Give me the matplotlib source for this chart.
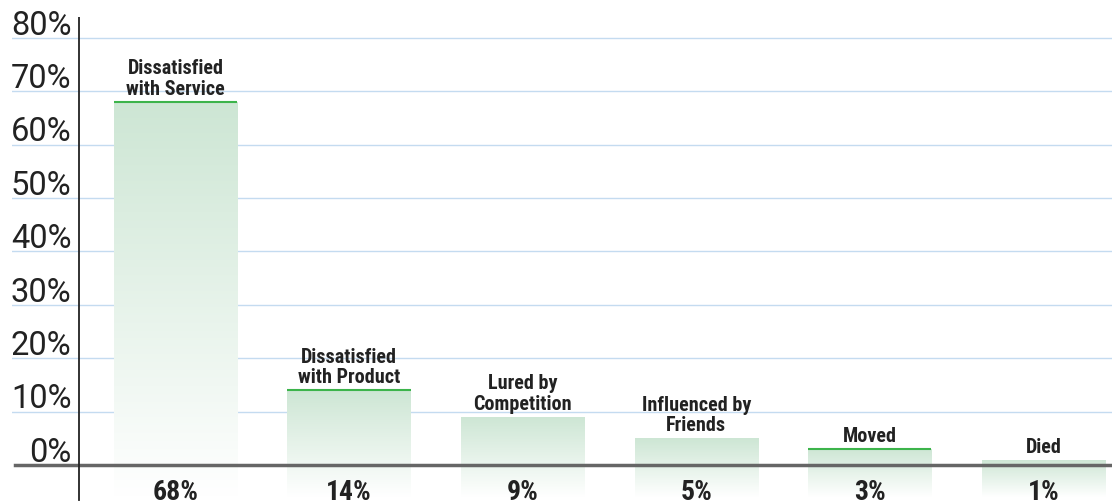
import numpy as np
import matplotlib
matplotlib.use("Agg")
import matplotlib.pyplot as plt
from matplotlib import font_manager
from matplotlib.colors import to_rgb

# data
reasons = ["Dissatisfied\nwith Service", "Dissatisfied\nwith Product", "Lured by\nCompetition",
           "Influenced by\nFriends", "Moved", "Died"]
shares = [68, 14, 9, 5, 3, 1]
share_labels = ["68%", "14%", "9%", "5%", "3%", "1%"]
yticks = [0, 10, 20, 30, 40, 50, 60, 70, 80]
ytick_labels = ["0%", "10%", "20%", "30%", "40%", "50%", "60%", "70%", "80%"]
outlined = [0, 1, 4]   # bars with a green top edge

# pick a narrow font if one is around
installed = {f.name for f in font_manager.fontManager.ttflist}
narrow = None
for cand in ["Liberation Sans Narrow", "Roboto Condensed", "Open Sans Condensed"]:
    if cand in installed:
        narrow = cand
        break
if narrow:
    label_kw = dict(family=[narrow, "DejaVu Sans"])
    size_scale = 1.0
else:
    label_kw = dict(family=["DejaVu Sans"], fontstretch="condensed")
    size_scale = 0.8

# styling
bar_top = to_rgb("#cde6d4")
floor = -6.0           # bars fade out below the zero line
bar_w = 0.71
tick_font = ["Roboto", "DejaVu Sans"]

fig = plt.figure(figsize=(11.12, 5.03), dpi=100)
ax = fig.add_axes([12 / 1112, 0, 1100 / 1112, 486 / 503])
ax.set_xlim(-0.942, 5.395)
ax.set_ylim(-7.12, 83.9)
ax.axis("off")

x = np.arange(len(shares))

# grid
for t in yticks[1:]:
    ax.axhline(t, color="#c4dbf0", lw=1, zorder=1)
ax.axhline(0, xmin=3 / 1100, color="#666666", lw=2.5, zorder=4)
ax.axvline(-0.556, ymin=0.006, color="#222222", lw=1.3, zorder=4)

# tick labels
for t, lab in zip(yticks, ytick_labels):
    ax.text(-0.6, t + 0.6, lab, ha="right", va="baseline", fontsize=23.5,
            family=tick_font, color="#222222", zorder=5)

# gradient bars
bars = ax.bar(x, [v - floor for v in shares], bar_w, bottom=floor,
              color="none", edgecolor="none", zorder=2)
grad = np.linspace(0, 1, 256)[:, None, None]
img = (1 - grad) * np.array(bar_top)[None, None, :] + grad * np.ones(3)[None, None, :]
for b, v in zip(bars, shares):
    x0 = b.get_x()
    im = ax.imshow(img, extent=(x0, x0 + b.get_width(), floor, v), aspect="auto",
                   origin="upper", zorder=2, interpolation="bilinear")
    im.set_clip_path(b)

for i in outlined:
    ax.hlines(shares[i], x[i] - bar_w / 2, x[i] + bar_w / 2, color="#3cb44b", lw=1.5, zorder=3)

# labels
for xi, v, name, pct in zip(x, shares, reasons, share_labels):
    ax.text(xi, v + 0.55, name, ha="center", va="bottom", fontsize=14.5 * size_scale,
            fontweight="bold", color="#222222", linespacing=1.1, zorder=5, **label_kw)
    ax.text(xi, -6.6, pct, ha="center", va="baseline", fontsize=20 * size_scale,
            fontweight="bold", color="#222222", zorder=5, **label_kw)

fig.savefig("out.png", dpi=100)
